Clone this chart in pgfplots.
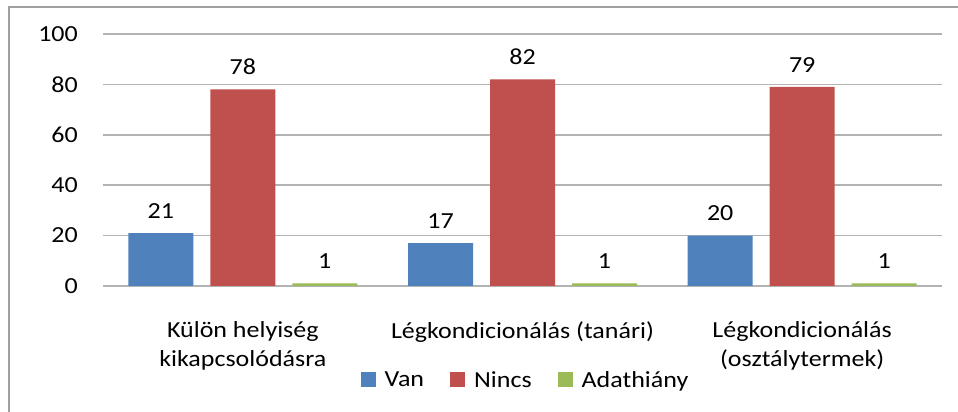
\documentclass[border=0pt]{standalone}
\usepackage{fontspec}
\setmainfont{Carlito}[FakeStretch=1.13]
\usepackage{pgfplots}
\pgfplotsset{compat=1.18}
\definecolor{cBlue}{HTML}{4F81BD}
\definecolor{cRed}{HTML}{C0504D}
\definecolor{cGreen}{HTML}{9BBB59}
\definecolor{cGrid}{HTML}{B3B3B3}
\begin{document}
\begin{tikzpicture}
\useasboundingbox (0,0) rectangle (958pt,412pt);
\fill[white] (0,0) rectangle (958pt,412pt);
\draw[gray!75, line width=2pt] (9pt,0) -- (9pt,405pt) -- (958pt,405pt);
\begin{axis}[
  at={(103pt,126pt)}, anchor=south west,
  scale only axis, width=839pt, height=252pt,
  xmin=-0.5, xmax=2.5, ymin=0, ymax=100,
  ybar=17pt, bar width=65pt,
  font=\fontsize{23}{29}\selectfont,
  axis line style={draw=none},
  tick style={draw=none},
  ytick={0,20,...,100},
  ymajorgrids, grid style={cGrid, line width=1.6pt},
  yticklabel style={anchor=east, inner sep=0pt, xshift=-25pt},
  /pgf/number format/assume math mode=true,
  xtick={0,1,2},
  xticklabels={{Külön helyiség\\kikapcsolódásra},{Légkondicionálás (tanári)},{Légkondicionálás\\(osztálytermek)}},
  xticklabel style={align=center, anchor=north, inner sep=0pt, yshift=-31pt},
  nodes near coords,
  every node near coord/.append style={anchor=south, yshift=11pt, black, font=\fontsize{23}{29}\selectfont},
  legend columns=3,
  legend style={at={(0.5036,-0.373)}, anchor=center, draw=none, fill=none,
    font=\fontsize{23}{29}\selectfont,
    /tikz/every odd column/.append style={column sep=7pt},
    /tikz/every even column/.append style={column sep=24pt}},
  legend image code/.code={\fill[#1] (0pt,-7pt) rectangle (15pt,8pt);},
]
\addplot[fill=cBlue, draw=none] coordinates {(0,21) (1,17) (2,20)};
\addplot[fill=cRed, draw=none] coordinates {(0,78) (1,82) (2,79)};
\addplot[fill=cGreen, draw=none] coordinates {(0,1) (1,1) (2,1)};
\legend{Van,Nincs,Adathiány}
\end{axis}
\end{tikzpicture}
\end{document}
